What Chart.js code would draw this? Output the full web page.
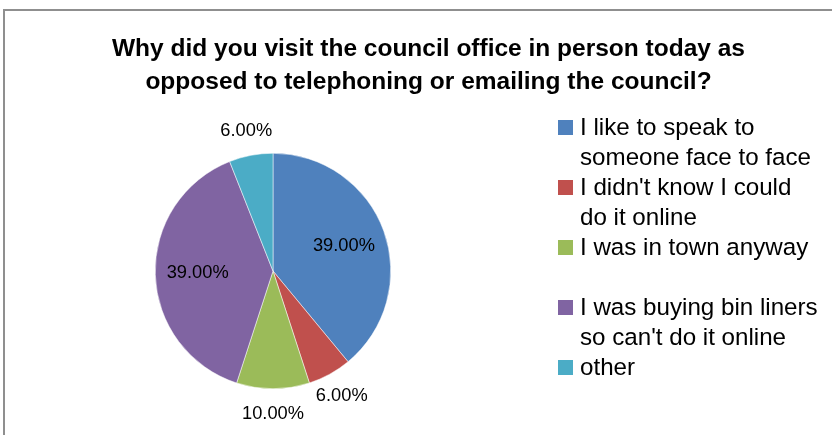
<!DOCTYPE html>
<html>
<head>
<meta charset="utf-8">
<script src="https://cdn.jsdelivr.net/npm/chart.js@4/dist/chart.umd.min.js"></script>
<style>
  html, body { margin: 0; padding: 0; background: #fff; }
  #wrap { position: relative; width: 832px; height: 435px; }
</style>
</head>
<body>
<div id="wrap"><canvas id="c"></canvas></div>
<script>
const titleLines = ["Why did you visit the council office in person today as",
                    "opposed to telephoning or emailing the council?"];
const categories = [
  "I like to speak to someone face to face",
  "I didn't know I could do it online",
  "I was in town anyway",
  "I was buying bin liners so can't do it online",
  "other"
];
const legendLines = [
  ["I like to speak to", "someone face to face"],
  ["I didn't know I could", "do it online"],
  ["I was in town anyway"],
  ["I was buying bin liners", "so can't do it online"],
  ["other"]
];
const values = [39, 6, 10, 39, 6];
const colors = ["#4F81BD", "#C0504D", "#9BBB59", "#8064A2", "#4BACC6"];

const FONT = '"Liberation Sans", Arial, sans-serif';

function fitSize(ctx, text, weight, target) {
  ctx.font = weight + ' 100px ' + FONT;
  const w = ctx.measureText(text).width;
  return 100 * target / w;
}

const decor = {
  id: 'decor',
  beforeDraw(chart) {
    const ctx = chart.ctx;
    ctx.save();
    ctx.strokeStyle = '#8f8f8f';
    ctx.lineWidth = 2;
    ctx.strokeRect(4, 10, 1000, 1000);
    ctx.restore();
  },
  afterDraw(chart) {
    const ctx = chart.ctx;
    ctx.save();
    ctx.fillStyle = '#000';
    // title (slightly condensed to mimic the original typeface)
    const tsz = 23.5;
    ctx.font = 'bold ' + tsz + 'px ' + FONT;
    const tw = ctx.measureText(titleLines[0]).width;
    const sx = 633 / tw;
    ctx.textAlign = 'center';
    ctx.textBaseline = 'alphabetic';
    ctx.save();
    ctx.translate(428.5, 0);
    ctx.scale(sx, 1);
    ctx.fillText(titleLines[0], 0, 56);
    ctx.fillText(titleLines[1], 0, 89);
    ctx.restore();
    // legend
    const ls = fitSize(ctx, 'someone face to face', 'normal', 231);
    ctx.font = ls.toFixed(2) + 'px ' + FONT;
    ctx.textAlign = 'left';
    legendLines.forEach((lines, i) => {
      const base = 135 + i * 60;
      ctx.fillStyle = colors[i];
      ctx.fillRect(558, base - 15, 15, 15);
      ctx.fillStyle = '#000';
      lines.forEach((t, j) => ctx.fillText(t, 580, base + j * 30));
    });
    // data labels
    const ds = fitSize(ctx, '39.00%', 'normal', 62);
    ctx.font = ds.toFixed(2) + 'px ' + FONT;
    ctx.textAlign = 'center';
    ctx.textBaseline = 'middle';
    const meta = chart.getDatasetMeta(0);
    const total = values.reduce((a, b) => a + b, 0);
    meta.data.forEach((arc, i) => {
      const p = arc.getProps(['startAngle', 'endAngle', 'outerRadius', 'x', 'y'], true);
      const mid = (p.startAngle + p.endAngle) / 2;
      const pct = values[i] / total * 100;
      const r = pct < 20 ? p.outerRadius + 25 : p.outerRadius * 0.64;
      const x = p.x + Math.cos(mid) * r;
      const y = p.y + Math.sin(mid) * r;
      ctx.fillText(pct.toFixed(2) + '%', x, y);
    });
    ctx.restore();
  }
};

new Chart(document.getElementById('c'), {
  type: 'pie',
  data: {
    labels: categories,
    datasets: [{
      data: values,
      backgroundColor: colors,
      borderColor: '#ffffff',
      borderWidth: 0.5
    }]
  },
  options: {
    responsive: true,
    maintainAspectRatio: false,
    animation: false,
    layout: { padding: { left: 155, right: 441, top: 153, bottom: 46 } },
    plugins: {
      legend: { display: false },
      title: { display: false },
      tooltip: { enabled: false }
    }
  },
  plugins: [decor]
});
</script>
</body>
</html>
